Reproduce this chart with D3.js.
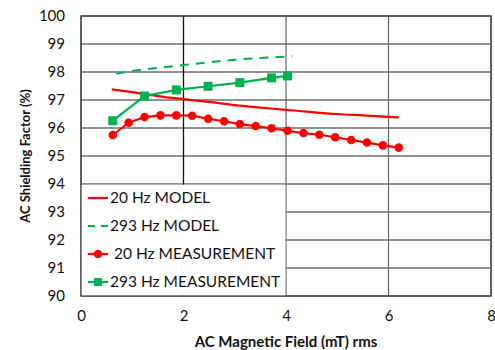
<!DOCTYPE html>
<html>
<head>
<meta charset="utf-8">
<script src="https://cdn.jsdelivr.net/npm/d3@7"></script>
<style>
  html, body { margin: 0; padding: 0; background: #fff; }
  svg { display: block; font-family: Lato, "Open Sans", "Liberation Sans", sans-serif; }
</style>
</head>
<body>
<svg id="chart" width="495" height="350"></svg>
<script>
// Field strength (mT rms) and shielding factor (%) for each series
const meas20X = [0.62, 0.93, 1.24, 1.55, 1.86, 2.17, 2.48, 2.79, 3.10, 3.41, 3.72, 4.03, 4.34, 4.65, 4.96, 5.27, 5.58, 5.89, 6.20];
const meas20Y = [95.75, 96.19, 96.39, 96.45, 96.45, 96.44, 96.33, 96.24, 96.14, 96.07, 95.99, 95.90, 95.82, 95.76, 95.67, 95.57, 95.48, 95.38, 95.30];

const meas293X = [0.62, 1.24, 1.86, 2.48, 3.10, 3.72, 4.03];
const meas293Y = [96.26, 97.14, 97.36, 97.49, 97.62, 97.79, 97.86];

const model20X = [0.6, 1.0, 1.5, 2.0, 2.5, 3.0, 3.5, 4.0, 4.5, 5.0, 5.5, 6.0, 6.2];
const model20Y = [97.38, 97.28, 97.14, 97.03, 96.93, 96.82, 96.73, 96.65, 96.57, 96.50, 96.45, 96.40, 96.38];

const model293X = [0.69, 1.0, 1.5, 2.0, 2.5, 3.0, 3.5, 4.12];
const model293Y = [97.94, 98.04, 98.15, 98.25, 98.35, 98.44, 98.50, 98.56];

const xTicks = [0, 2, 4, 6, 8];
const yTicks = [90, 91, 92, 93, 94, 95, 96, 97, 98, 99, 100];

const legendLabels = ["20 Hz MODEL", "293 Hz MODEL", " 20 Hz MEASUREMENT", "293 Hz MEASUREMENT"];

const RED = "#ff0000", GREEN = "#00b050";

const svg = d3.select("#chart");
const x = d3.scaleLinear().domain([0, 8]).range([81, 491]);
const y = d3.scaleLinear().domain([90, 100]).range([296, 16]);

// gridlines
const grid = svg.append("g");
grid.selectAll("line.h").data(yTicks).join("line")
  .attr("x1", x(0)).attr("x2", x(8))
  .attr("y1", d => y(d)).attr("y2", d => y(d))
  .attr("stroke", "#6f6f6f").attr("stroke-width", 1.3);
grid.selectAll("line.v").data(xTicks).join("line")
  .attr("y1", y(90)).attr("y2", y(100))
  .attr("x1", d => x(d)).attr("x2", d => x(d))
  .attr("stroke", d => d === 2 ? "#111" : "#6f6f6f").attr("stroke-width", 1.3);

// plot border
svg.append("rect")
  .attr("x", x(0)).attr("y", y(100))
  .attr("width", x(8) - x(0)).attr("height", y(90) - y(100))
  .attr("fill", "none").attr("stroke", "#444").attr("stroke-width", 1.4);

// axes (labels only)
const xAxis = svg.append("g").attr("transform", `translate(0,${y(90)})`)
  .call(d3.axisBottom(x).tickValues(xTicks).tickSize(0).tickPadding(14));
xAxis.select(".domain").remove();
xAxis.selectAll("text").attr("font-size", 15).attr("fill", "#111")
  .attr("font-family", "Lato, 'Open Sans', sans-serif");

const yAxis = svg.append("g").attr("transform", `translate(${x(0)},0)`)
  .call(d3.axisLeft(y).tickValues(yTicks).tickSize(0).tickPadding(16));
yAxis.select(".domain").remove();
yAxis.selectAll("text").attr("font-size", 15).attr("fill", "#111")
  .attr("font-family", "Lato, 'Open Sans', sans-serif");

// axis titles
svg.append("text")
  .attr("x", x(4)).attr("y", 347)
  .attr("text-anchor", "middle").attr("font-size", 15).attr("font-weight", "bold")
  .attr("fill", "#111")
  .text("AC Magnetic Field (mT) rms");
svg.append("text")
  .attr("transform", `translate(30,${156}) rotate(-90)`)
  .attr("text-anchor", "middle").attr("font-size", 13).attr("font-weight", "bold")
  .attr("fill", "#111")
  .text("AC Shielding Factor (%)");

// series
const line = d3.line().x(d => x(d[0])).y(d => y(d[1]));
const zip = (a, b) => a.map((v, i) => [v, b[i]]);

const series = svg.append("g");
series.append("path").datum(zip(model293X, model293Y))
  .attr("d", line).attr("fill", "none").attr("stroke", GREEN)
  .attr("stroke-width", 2).attr("stroke-dasharray", "9,7");
series.append("path").datum(zip(model20X, model20Y))
  .attr("d", line.curve(d3.curveMonotoneX)).attr("fill", "none").attr("stroke", RED)
  .attr("stroke-width", 2.2);
line.curve(d3.curveLinear);

series.append("path").datum(zip(meas293X, meas293Y))
  .attr("d", line).attr("fill", "none").attr("stroke", GREEN).attr("stroke-width", 2.2);
series.selectAll("rect.m293").data(zip(meas293X, meas293Y)).join("rect")
  .attr("x", d => x(d[0]) - 4.5).attr("y", d => y(d[1]) - 4.5)
  .attr("width", 9).attr("height", 9).attr("fill", GREEN);

series.append("path").datum(zip(meas20X, meas20Y))
  .attr("d", line).attr("fill", "none").attr("stroke", RED).attr("stroke-width", 2.2);
series.selectAll("circle.m20").data(zip(meas20X, meas20Y)).join("circle")
  .attr("cx", d => x(d[0])).attr("cy", d => y(d[1]))
  .attr("r", 4.3).attr("fill", RED);

// legend box covering the lower-left grid cells
const legend = svg.append("g");
legend.append("rect")
  .attr("x", x(0) + 0.7).attr("y", y(94) + 0.7)
  .attr("width", x(4) - x(0) - 1.4).attr("height", y(90) - y(94) - 1.4)
  .attr("fill", "#fff");

const rowY = [198, 226, 254, 282];
const lx0 = 88, lx1 = 108;
legendLabels.forEach((label, i) => {
  const g = legend.append("g");
  const cy = rowY[i];
  const color = i % 2 === 0 ? RED : GREEN;
  if (i === 1) {
    g.append("line").attr("x1", lx0).attr("x2", lx1).attr("y1", cy).attr("y2", cy)
      .attr("stroke", color).attr("stroke-width", 2).attr("stroke-dasharray", "7,6");
  } else {
    g.append("line").attr("x1", lx0).attr("x2", lx1).attr("y1", cy).attr("y2", cy)
      .attr("stroke", color).attr("stroke-width", 2.2);
  }
  if (i === 2) g.append("circle").attr("cx", (lx0 + lx1) / 2).attr("cy", cy).attr("r", 4.3).attr("fill", color);
  if (i === 3) g.append("rect").attr("x", (lx0 + lx1) / 2 - 4).attr("y", cy - 4)
    .attr("width", 8).attr("height", 8).attr("fill", color);
  g.append("text").attr("x", 110).attr("y", cy).attr("dy", "0.35em")
    .attr("font-size", 15.5).attr("fill", "#111").attr("xml:space", "preserve")
    .style("white-space", "pre")
    .text(label);
});
</script>
</body>
</html>
